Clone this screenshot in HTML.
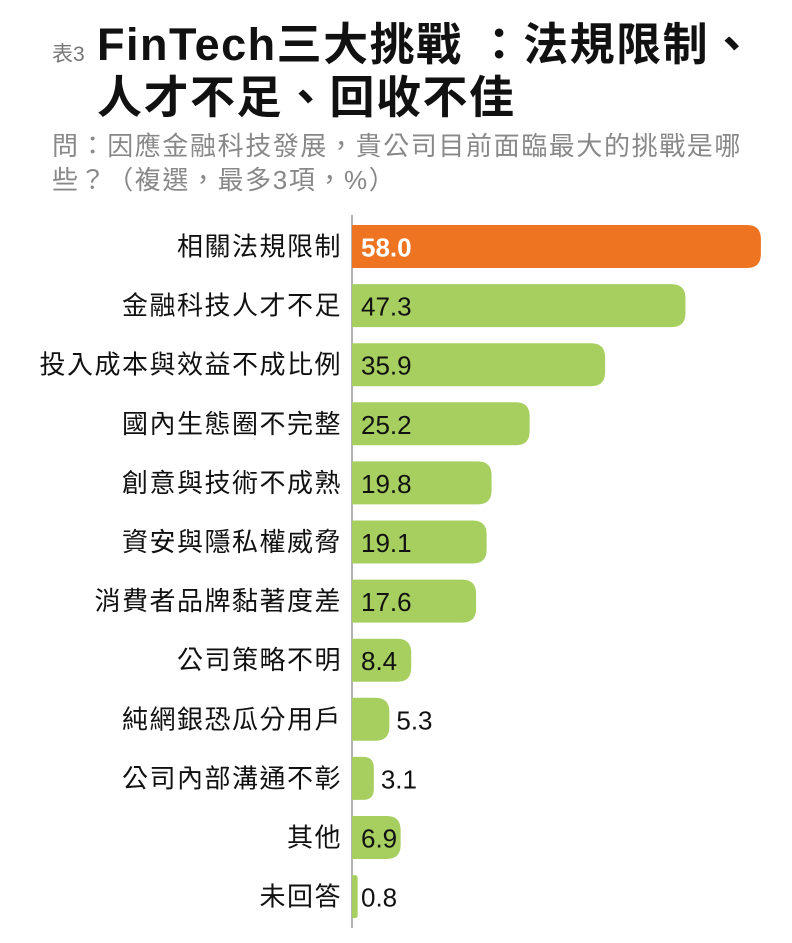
<!DOCTYPE html>
<html><head><meta charset="utf-8"><style>
body{margin:0;width:792px;height:943px;background:#fff;overflow:hidden;position:relative;font-family:"Liberation Sans","Noto Sans CJK TC",sans-serif}
.t{position:absolute;white-space:nowrap}
</style></head><body>
<div class="t" style="left:52px;top:38px;font-size:21px;color:#777">表3</div>
<div class="t" style="left:97px;top:18px;font-size:45px;font-weight:bold;color:#111;line-height:53px;letter-spacing:1.5px">FinTech三大挑戰 ：法規限制、<br>人才不足、回收不佳</div>
<div class="t" style="left:52px;top:129px;font-size:26px;color:#888;line-height:34px;letter-spacing:1.6px">問：因應金融科技發展，貴公司目前面臨最大的挑戰是哪<br>些？（複選，最多3項，%）</div>
<svg id="c" width="792" height="943" style="position:absolute;left:0;top:0"></svg>
<script>
const categories=["相關法規限制","金融科技人才不足","投入成本與效益不成比例","國內生態圈不完整","創意與技術不成熟","資安與隱私權威脅","消費者品牌黏著度差","公司策略不明","純網銀恐瓜分用戶","公司內部溝通不彰","其他","未回答"];
const values=[58.0,47.3,35.9,25.2,19.8,19.1,17.6,8.4,5.3,3.1,6.9,0.8];
const labels=["58.0","47.3","35.9","25.2","19.8","19.1","17.6","8.4","5.3","3.1","6.9","0.8"];
const svg=document.getElementById('c'),NS='http://www.w3.org/2000/svg';
const x0=352,k=7.05,y0=225,pitch=59.1,bh=43,r=14;
const xs=v=>v*k, ys=i=>y0+i*pitch;
function mk(t,a){const e=document.createElementNS(NS,t);for(const n in a)e.setAttribute(n,a[n]);svg.appendChild(e);return e;}
const ax=mk('line',{x1:x0,y1:215,x2:x0,y2:928,stroke:'#999','stroke-width':1.5});


categories.forEach((c,i)=>{
  const w=xs(values[i]),y=ys(i),rr=Math.min(r,w/2);
  const p=mk('path',{d:`M${x0},${y}H${x0+w-rr}Q${x0+w},${y} ${x0+w},${y+rr}V${y+bh-rr}Q${x0+w},${y+bh} ${x0+w-rr},${y+bh}H${x0}Z`,fill:i===0?'#ee7421':'#a7cf60'});
  
  
  const cl=mk('text',{x:342,y:y+bh/2+9,'text-anchor':'end','font-size':26,'letter-spacing':1.5,fill:'#111'});
  cl.textContent=c;
  
  
  const inside=w>=40||values[i]<1;
  const vl=mk('text',{x:inside?x0+9:x0+w+7,y:y+bh/2+10,'font-size':26,fill:i===0?'#fff':'#111','font-weight':i===0?'bold':'normal'});
  vl.textContent=labels[i];
  
  
});
</script>
</body></html>
